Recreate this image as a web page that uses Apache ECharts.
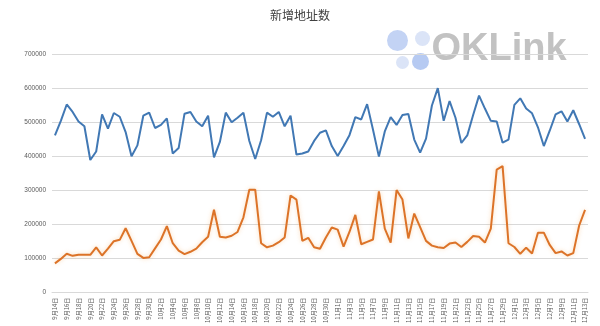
<!DOCTYPE html>
<html>
<head>
<meta charset="utf-8">
<script src="https://cdn.jsdelivr.net/npm/echarts@6/dist/echarts.min.js"></script>
<style>
  html, body { margin: 0; padding: 0; background: #fff; }
  #chart { width: 600px; height: 326px; }
</style>
</head>
<body>
<div id="chart"></div>
<script>
// Daily dates, 9月14日 – 12月13日
const dates = [
  '9月14日','9月15日','9月16日','9月17日','9月18日','9月19日','9月20日','9月21日','9月22日','9月23日',
  '9月24日','9月25日','9月26日','9月27日','9月28日','9月29日','9月30日',
  '10月1日','10月2日','10月3日','10月4日','10月5日','10月6日','10月7日','10月8日','10月9日','10月10日',
  '10月11日','10月12日','10月13日','10月14日','10月15日','10月16日','10月17日','10月18日','10月19日','10月20日',
  '10月21日','10月22日','10月23日','10月24日','10月25日','10月26日','10月27日','10月28日','10月29日','10月30日','10月31日',
  '11月1日','11月2日','11月3日','11月4日','11月5日','11月6日','11月7日','11月8日','11月9日','11月10日',
  '11月11日','11月12日','11月13日','11月14日','11月15日','11月16日','11月17日','11月18日','11月19日','11月20日',
  '11月21日','11月22日','11月23日','11月24日','11月25日','11月26日','11月27日','11月28日','11月29日','11月30日',
  '12月1日','12月2日','12月3日','12月4日','12月5日','12月6日','12月7日','12月8日','12月9日','12月10日',
  '12月11日','12月12日','12月13日'
];

// New addresses per day, upper (blue) series
const lineA = [
  461000, 504000, 552000, 530000, 502000, 488000, 389000, 414000, 523000, 481000,
  527000, 516000, 471000, 400000, 432000, 519000, 528000, 483000, 492000, 511000,
  408000, 424000, 525000, 530000, 502000, 488000, 519000, 397000, 442000, 528000,
  500000, 513000, 528000, 445000, 392000, 447000, 528000, 516000, 530000, 488000,
  519000, 405000, 408000, 414000, 445000, 469000, 476000, 430000, 401000, 430000,
  462000, 515000, 508000, 553000, 478000, 399000, 473000, 515000, 492000, 521000,
  524000, 449000, 411000, 452000, 549000, 600000, 504000, 562000, 513000, 439000,
  461000, 521000, 578000, 540000, 504000, 502000, 440000, 449000, 551000, 570000,
  540000, 526000, 485000, 430000, 475000, 523000, 532000, 502000, 535000, 494000,
  451000
];

// New addresses per day, lower (orange) series
const lineB = [
  86000, 99000, 114000, 108000, 111000, 111000, 111000, 133000, 109000, 129000,
  151000, 155000, 189000, 152000, 114000, 102000, 104000, 130000, 156000, 195000,
  145000, 123000, 113000, 120000, 129000, 148000, 164000, 243000, 164000, 162000,
  167000, 178000, 221000, 302000, 302000, 145000, 133000, 138000, 148000, 162000,
  285000, 273000, 152000, 161000, 133000, 129000, 162000, 191000, 185000, 135000,
  178000, 228000, 142000, 149000, 156000, 297000, 188000, 147000, 301000, 273000,
  159000, 232000, 192000, 152000, 138000, 133000, 131000, 144000, 147000, 134000,
  149000, 166000, 164000, 147000, 188000, 361000, 371000, 145000, 134000, 114000,
  132000, 115000, 176000, 176000, 140000, 116000, 121000, 109000, 116000, 197000,
  243000
];

const chart = echarts.init(document.getElementById('chart'), null, { renderer: 'canvas' });

chart.setOption({
  animation: false,
  backgroundColor: '#ffffff',
  title: {
    text: '新增地址数',
    left: 'center',
    top: 4,
    textStyle: {
      fontFamily: '"Noto Sans CJK SC", sans-serif',
      fontSize: 12,
      fontWeight: 'normal',
      color: '#404040'
    }
  },
  grid: { left: 52, right: 12, top: 54, bottom: 27 },
  xAxis: {
    type: 'category',
    data: dates,
    boundaryGap: true,
    axisLine: { lineStyle: { color: '#d9d9d9' } },
    axisTick: { show: false },
    axisLabel: {
      interval: 1,
      rotate: 90,
      margin: 5,
      fontSize: 6,
      color: '#595959',
      fontFamily: '"Noto Sans CJK SC", sans-serif'
    }
  },
  yAxis: {
    type: 'value',
    min: 0,
    max: 700000,
    interval: 100000,
    axisLine: { show: false },
    axisTick: { show: false },
    splitLine: { lineStyle: { color: '#d9d9d9', width: 1 } },
    axisLabel: {
      margin: 6,
      fontSize: 6.5,
      color: '#595959',
      fontFamily: '"Liberation Sans", sans-serif',
      formatter: (v) => String(v)
    }
  },
  series: [
    {
      name: 'lineA',
      type: 'line',
      data: lineA,
      symbol: 'none',
      lineStyle: { color: '#4178b4', width: 2 },
      z: 3
    },
    {
      name: 'lineB',
      type: 'line',
      data: lineB,
      symbol: 'none',
      lineStyle: {
        color: '#dc7328',
        width: 2,
        shadowColor: 'rgba(245,170,90,0.45)',
        shadowBlur: 4
      },
      z: 3
    }
  ],
  graphic: [
    {
      type: 'group',
      left: 387,
      top: 30,
      z: 100,
      children: [
        { type: 'circle', shape: { cx: 11, cy: 13, r: 10.5 }, style: { fill: '#c3d3f4' } },
        { type: 'circle', shape: { cx: 36, cy: 11, r: 7.5 }, style: { fill: '#dbe4f7' } },
        { type: 'circle', shape: { cx: 16, cy: 35, r: 6.5 }, style: { fill: '#dbe4f7' } },
        { type: 'circle', shape: { cx: 34, cy: 34, r: 8.5 }, style: { fill: '#b6caf2' } },
        {
          type: 'text',
          x: 45,
          y: 3,
          style: {
            text: 'OKLink',
            font: 'bold 38px "Liberation Sans", Arial, sans-serif',
            fill: '#c2c2c2'
          }
        }
      ]
    }
  ]
});
</script>
</body>
</html>
